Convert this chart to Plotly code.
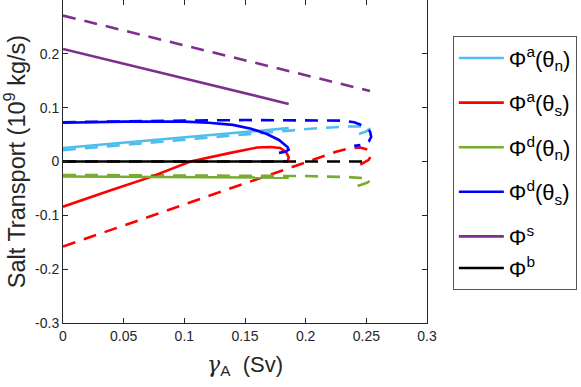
import plotly.graph_objects as go

# values (gamma_A in Sv, transport in 1e9 kg/s)
x_an_solid = [0, 0.05, 0.1, 0.15, 0.186]
y_an_solid = [0.025, 0.035, 0.045, 0.055, 0.062]
x_an_dash = [0, 0.05, 0.1, 0.15, 0.186, 0.21, 0.235, 0.248, 0.253, 0.25, 0.244]
y_an_dash = [0.021, 0.031, 0.041, 0.050, 0.057, 0.062, 0.065, 0.065, 0.061, 0.056, 0.051]

x_as_solid = [0, 0.02, 0.04, 0.072, 0.105, 0.138, 0.16, 0.171, 0.179, 0.184, 0.186, 0.185]
y_as_solid = [-0.084, -0.068, -0.053, -0.029, 0.0, 0.016, 0.026, 0.027, 0.025, 0.017, 0.008, -0.002]
x_as_dash = [0, 0.05, 0.1, 0.15, 0.19, 0.21, 0.225, 0.235, 0.245, 0.251, 0.254, 0.252, 0.245]
y_as_dash = [-0.158, -0.119, -0.080, -0.041, -0.010, 0.006, 0.018, 0.024, 0.026, 0.022, 0.012, 0.003, -0.006]

x_dn_solid = [0, 0.1, 0.186]
y_dn_solid = [-0.028, -0.029, -0.030]
x_dn_dash = [0, 0.1, 0.2, 0.235, 0.248, 0.253, 0.25, 0.242]
y_dn_dash = [-0.025, -0.026, -0.027, -0.029, -0.031, -0.036, -0.040, -0.046]

x_ds_solid = [0, 0.05, 0.1, 0.12, 0.14, 0.155, 0.168, 0.178, 0.185, 0.186, 0.183, 0.178]
y_ds_solid = [0.072, 0.074, 0.074, 0.072, 0.068, 0.061, 0.051, 0.040, 0.027, 0.022, 0.018, 0.016]
x_ds_dash = [0, 0.05, 0.1, 0.15, 0.2, 0.23, 0.24, 0.248, 0.253, 0.254, 0.252, 0.247, 0.24]
y_ds_dash = [0.073, 0.075, 0.076, 0.077, 0.077, 0.076, 0.073, 0.066, 0.056, 0.046, 0.037, 0.031, 0.029]

x_s_solid = [0, 0.186]
y_s_solid = [0.209, 0.107]
x_s_dash = [0, 0.253]
y_s_dash = [0.271, 0.131]

x_b_solid = [0, 0.186]
y_b_solid = [0, 0]
x_b_dash = [0, 0.253]
y_b_dash = [0, 0]

yticks = [-0.3, -0.2, -0.1, 0, 0.1, 0.2]
xticks = [0, 0.05, 0.1, 0.15, 0.2, 0.25, 0.3]

# (legend text, colour, legend group, solid x/y, dashed x/y)
series = [
    ("Φ<sup>a</sup>(θ<sub>n</sub>)", "#4DBEEE", "g1", x_an_solid, y_an_solid, x_an_dash, y_an_dash),
    ("Φ<sup>a</sup>(θ<sub>s</sub>)", "#FF0000", "g2", x_as_solid, y_as_solid, x_as_dash, y_as_dash),
    ("Φ<sup>d</sup>(θ<sub>n</sub>)", "#77AC30", "g3", x_dn_solid, y_dn_solid, x_dn_dash, y_dn_dash),
    ("Φ<sup>d</sup>(θ<sub>s</sub>)", "#0000FF", "g4", x_ds_solid, y_ds_solid, x_ds_dash, y_ds_dash),
    ("Φ<sup>s</sup>", "#7E2F8E", "g5", x_s_solid, y_s_solid, x_s_dash, y_s_dash),
    ("Φ<sup>b</sup>", "#000000", "g5", x_b_solid, y_b_solid, x_b_dash, y_b_dash),
]

fig = go.Figure()

# dashed branches first so the solid ones sit on top
for name, col, grp, xs, ys, xd, yd in series:
    fig.add_trace(go.Scatter(x=xd, y=yd, mode="lines", showlegend=False, legendgroup=grp,
                             line=dict(color=col, width=2.6, dash="13px,9px")))
for name, col, grp, xs, ys, xd, yd in series:
    fig.add_trace(go.Scatter(x=xs, y=ys, mode="lines", name=name, legendgroup=grp,
                             line=dict(color=col, width=2.6)))

axis_col = "#262626"
fig.update_xaxes(range=[0, 0.3], tickvals=xticks, ticktext=["0", "0.05", "0.1", "0.15", "0.2", "0.25", "0.3"],
                 ticks="inside", ticklen=5, tickcolor=axis_col, showline=True, linecolor=axis_col,
                 mirror="ticks", showgrid=False, zeroline=False, automargin=False,
                 tickfont=dict(size=14, color=axis_col),
                 title=dict(text="<span style='font-family:DejaVu Serif'><i>γ</i></span><sub>A</sub>  (Sv)",
                            font=dict(size=22, color=axis_col), standoff=13))
fig.update_yaxes(range=[-0.3, 0.3], tickvals=yticks, ticktext=["-0.3", "-0.2", "-0.1", "0", "0.1", "0.2"],
                 ticks="inside", ticklen=5, tickcolor=axis_col, showline=True, linecolor=axis_col,
                 mirror="ticks", showgrid=False, zeroline=False, automargin=False,
                 tickfont=dict(size=14, color=axis_col),
                 title=dict(text="Salt Transport (10<sup>9</sup> kg/s)",
                            font=dict(size=23.5, color=axis_col), standoff=2))

fig.update_layout(
    width=581, height=387,
    margin=dict(l=63, r=154, t=0, b=64, autoexpand=False),
    paper_bgcolor="white", plot_bgcolor="white",
    font=dict(family="Liberation Sans, Arial, sans-serif", color="#000000"),
    legend=dict(x=1.071, y=0.888, xanchor="left", yanchor="top",
                bordercolor="#555555", borderwidth=1, bgcolor="white",
                font=dict(size=22, color="#000000"), itemwidth=45,
                tracegroupgap=13),
)

fig.write_html("out.html", config={"displayModeBar": False},
               post_script="document.body.style.margin='0';")
